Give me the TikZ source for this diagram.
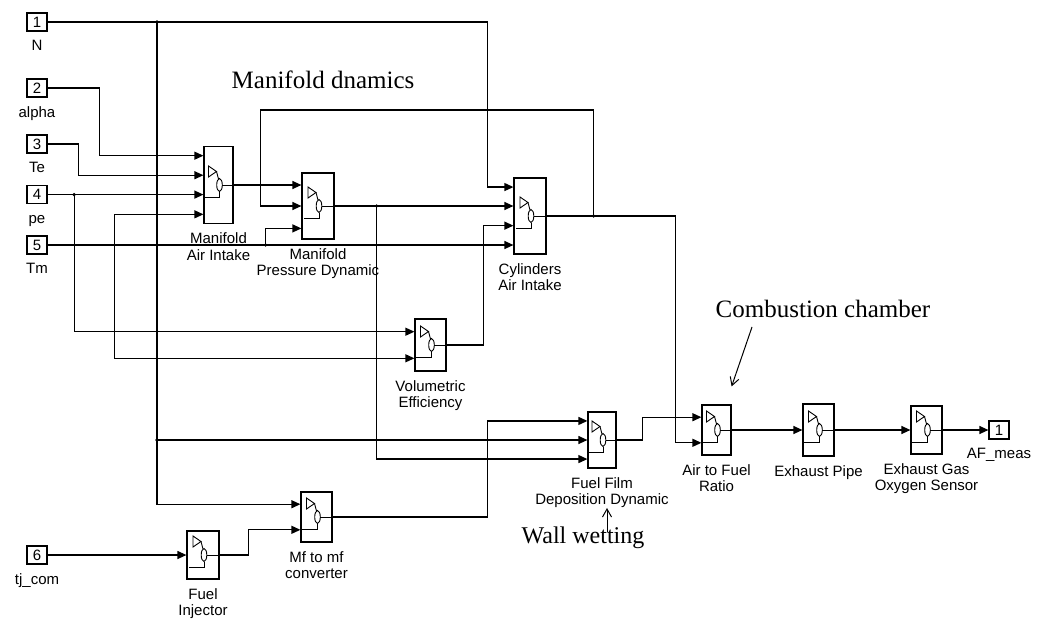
\documentclass[tikz,border=0pt]{standalone}
\usepackage{fontspec}
\setmainfont{Liberation Serif}
\setsansfont{Liberation Sans}
\usetikzlibrary{arrows.meta,positioning,calc}

\begin{document}
\begin{tikzpicture}[
    x=1pt,y=-1pt,
    node distance=8.5pt,
    port/.style={rectangle,draw,line width=1.2pt,minimum width=20pt,minimum height=18pt,
                 inner sep=0pt,font=\sffamily\fontsize{15}{16}\selectfont},
    block/.style={rectangle,draw,line width=1.2pt,inner sep=0pt},
    lbl/.style={inner sep=0pt,align=center,execute at begin node=\vphantom{A},
                font=\sffamily\fontsize{15}{16.5}\selectfont},
    note/.style={inner sep=0pt,font=\fontsize{25}{28}\selectfont},
    wire/.style={line width=1.2pt,-{Triangle[length=9pt,width=8pt]}},
    icon/.style={line width=0.9pt},
    pointer/.style={line width=1pt,-{Straight Barb[length=8pt,width=9pt]}}
]
\useasboundingbox (0,0) rectangle (1038,619);

% inports and outport
\node[port] (in1) at (37,22) {1};
\node[lbl,below=of in1] (in1-l) {N};
\node[port] (in2) at (37,88) {2};
\node[lbl,below=of in2] (in2-l) {alpha};
\node[port] (in3) at (37,144) {3};
\node[lbl,below=of in3] (in3-l) {Te};
\node[port] (in4) at (37,194.6) {4};
\node[lbl,below=of in4] (in4-l) {pe};
\node[port] (in5) at (37,245) {5};
\node[lbl,below=of in5] (in5-l) {Tm};
\node[port] (in6) at (37,555) {6};
\node[lbl,below=of in6] (in6-l) {tj\_com};
\node[port] (out1) at (999,430) {1};
\node[lbl,below=of out1] (out1-l) {AF\_meas};

% subsystems
\node[block,minimum width=29pt,minimum height=77pt] (mai) at (218.5,185) {};
\node[lbl,below=of mai] (mai-l) {Manifold\\Air Intake};
\node[block,minimum width=32pt,minimum height=66pt] (mpd) at (318,206) {};
\node[lbl,below=of mpd] (mpd-l) {Manifold\\Pressure Dynamic};
\node[block,minimum width=32pt,minimum height=76pt] (cyl) at (530,216) {};
\node[lbl,below=of cyl] (cyl-l) {Cylinders\\Air Intake};
\node[block,minimum width=31pt,minimum height=52pt] (ve) at (430.5,345) {};
\node[lbl,below=of ve] (ve-l) {Volumetric\\Efficiency};
\node[block,minimum width=28pt,minimum height=56pt] (ffd) at (602,440) {};
\node[lbl,below=of ffd] (ffd-l) {Fuel Film\\Deposition Dynamic};
\node[block,minimum width=29pt,minimum height=50pt] (afr) at (716.5,430) {};
\node[lbl,below=of afr] (afr-l) {Air to Fuel\\Ratio};
\node[block,minimum width=31pt,minimum height=52pt] (exp) at (818.5,430) {};
\node[lbl,below=of exp] (exp-l) {Exhaust Pipe};
\node[block,minimum width=31pt,minimum height=48pt] (ego) at (926.5,430) {};
\node[lbl,below=of ego] (ego-l) {Exhaust Gas\\Oxygen Sensor};
\node[block,minimum width=31pt,minimum height=50pt] (mfc) at (316.5,517) {};
\node[lbl,below=of mfc] (mfc-l) {Mf to mf\\converter};
\node[block,minimum width=32pt,minimum height=48pt] (finj) at (203,555) {};
\node[lbl,below=of finj] (finj-l) {Fuel\\Injector};

% input ports of the subsystems
\foreach \b/\n in {mai/4,mpd/3,cyl/4,ve/2,ffd/3,afr/2,mfc/2}
  \foreach \i in {1,...,\n}
    \coordinate (\b-\i) at ($(\b.north west)!{(\i-0.5)/\n}!(\b.south west)$);

% subsystem icons
\foreach \b in {mai,mpd,cyl,ve,ffd,afr,exp,ego,mfc,finj}{
  \begin{scope}[shift={(\b.center)},icon]
    \draw (-10,-19) -- (-2,-13.5) -- (-10,-8) -- cycle;
    \draw (-2,-13.5) -- (0,-6);
    \draw (1,0) ellipse [x radius=2.8pt,y radius=6.5pt];
    \draw (3.8,0) -- (\b.east);
    \draw (1,6.5) -- (1,12) -- (-14.5,12);
  \end{scope}
}

% branch points
\coordinate (j1) at (157,22);
\coordinate (j2) at (ffd-2 -| j1);
\coordinate (j4) at ([xshift=26.5pt]in4.east);
\coordinate (j5) at ([xshift=218pt]in5.east);
\coordinate (j6) at ([xshift=-89pt]mai-4);
\coordinate (j7) at ([xshift=47pt]cyl.east);
\coordinate (j8) at ([xshift=42pt]mpd.east);

% signal lines
\draw[wire] (in1.east) -| ([xshift=-26pt]cyl-1) -- (cyl-1);
\draw[wire] (j1) |- (mfc-1);
\draw[wire] (j2) -- (ffd-2);
\draw[wire] (in2.east) -| ([xshift=-104pt]mai-1) -- (mai-1);
\draw[wire] (in3.east) -| ([xshift=-125pt]mai-2) -- (mai-2);
\draw[wire] (in4.east) -- (in4.east -| mai.west);
\draw[wire] (j4) |- (ve-1);
\draw[wire] (in5.east) -- (in5.east -| cyl.west);
\draw[wire] (j5) |- (mpd-3);
\draw[wire] (j6) -- (mai-4);
\draw[wire] (j6) |- (ve-2);
\draw[wire] (mai.east) -- (mai.east -| mpd.west);
\draw[wire] (j7) -- ++(0,-106) -| ([xshift=-41pt]mpd-2) -- (mpd-2);
\draw[wire] (mpd.east) -- (mpd.east -| cyl.west);
\draw[wire] (j8) |- (ffd-3);
\draw[wire] (ve.east) -| ([xshift=-30pt]cyl-3) -- (cyl-3);
\draw[wire] (cyl.east) -| ([xshift=-26pt]afr-2) -- (afr-2);
\draw[wire] (mfc.east) -| ([xshift=-100pt]ffd-1) -- (ffd-1);
\draw[wire] (ffd.east) -| ([xshift=-59pt]afr-1) -- (afr-1);
\draw[wire] (in6.east) -- (finj.west);
\draw[wire] (finj.east) -| ([xshift=-52pt]mfc-2) -- (mfc-2);
\draw[wire] (afr.east) -- (exp.west);
\draw[wire] (exp.east) -- (ego.west);
\draw[wire] (ego.east) -- (out1.west);
\foreach \j in {j1,j2,j4,j5,j7,j8} \fill (\j) circle (1.8pt);

% annotations
\node[note] (mdyn) at (323,80) {Manifold dnamics};
\node[note] (comb) at (823,309) {Combustion chamber};
\node[note,font=\fontsize{24}{27}\selectfont] (wall) at (583,538) {Wall wetting};
\draw[pointer] ([xshift=-71pt,yshift=-9pt]comb.south) -- ([yshift=18pt]afr.north east);
\draw[pointer] ([xshift=24pt,yshift=-5pt]wall.north) -- ([xshift=24pt]wall.north |- ffd-l.south);
\end{tikzpicture}
\end{document}
